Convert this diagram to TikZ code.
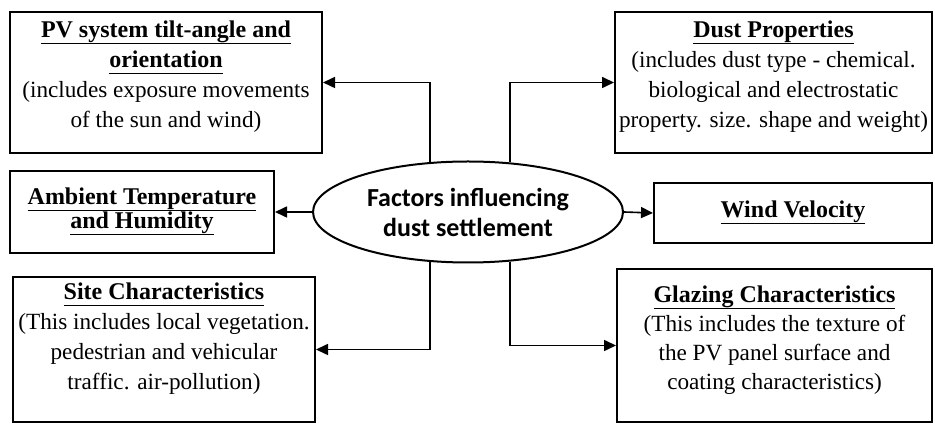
\documentclass[tikz,border=0pt]{standalone}
\usepackage{fontspec}
\setmainfont{Liberation Serif}
\newfontfamily\factfont{Carlito}
\usetikzlibrary{positioning,shapes.geometric,arrows.meta,calc}

\newcommand{\boxtitle}[1]{\textbf{\fontsize{12pt}{15pt}\selectfont\underline{\raisebox{0pt}[\height][0pt]{#1}\rule[-1.6pt]{0pt}{1pt}}}}

\begin{document}
\begin{tikzpicture}[x=0.5pt, y=-0.5pt,
    factor/.style={draw=black, line width=1pt, rectangle, inner sep=0pt, align=center,
                   font=\fontsize{11.6pt}{15pt}\selectfont},
    factortext/.style={align=center, font=\fontsize{11.6pt}{15pt}\selectfont},
    centre/.style={ellipse, draw=black, line width=1pt, fill=white, align=center, inner sep=0pt,
                   font=\factfont\bfseries\fontsize{13pt}{15pt}\selectfont},
    link/.style={draw=black, line width=0.8pt, -{Triangle[length=6pt,width=5.5pt]}}]

    \useasboundingbox (0,0) rectangle (935,426);

    % Centre
    \node[centre, minimum width=155pt, minimum height=50.5pt] (fact) at (468,212) {Factors influencing\\dust settlement};

    % Left side
    \node[factor, minimum width=156pt, minimum height=70.5pt] (pv) at (166,82.5) {}; % Tilt and orientation
    \node[factortext, below=1.5pt of pv.north] (pvtext) {\boxtitle{PV system tilt-angle and}\\\boxtitle{orientation}\\(includes exposure movements\\of the sun and wind)};
    \node[factor, minimum width=132pt, minimum height=41pt, font=\fontsize{12pt}{12pt}\selectfont] (amb) at (142,212) {\boxtitle{Ambient Temperature}\\\boxtitle{and Humidity}};
    \node[factor, minimum width=151pt, minimum height=72.5pt] (site) at (164,349.5) {}; % Site
    \node[factortext, below=0pt of site.north] (sitetext) {\boxtitle{Site Characteristics}\\(This includes local vegetation.\\pedestrian and vehicular\\traffic. air-pollution)};

    % Right side
    \node[factor, minimum width=158.5pt, minimum height=70.5pt] (dust) at (773.5,82.5) {}; % Dust
    \node[factortext, below=1.5pt of dust.north] (dusttext) {\boxtitle{Dust Properties}\\(includes dust type - chemical.\\biological and electrostatic\\property. size. shape and weight)};
    \node[factor, minimum width=139pt, minimum height=30pt] (wind) at (793,213) {\boxtitle{Wind Velocity}};
    \node[factor, minimum width=157.5pt, minimum height=76.5pt] (glaz) at (774.5,345.5) {}; % Glazing
    \node[factortext, below=5.5pt of glaz.north, font=\fontsize{11.6pt}{14.5pt}\selectfont] (glaztext) {\boxtitle{Glazing Characteristics}\\(This includes the texture of\\the PV panel surface and\\coating characteristics)};

    % Connectors
    \draw[link] ($(fact.north)+(-38,1.5)$) |- (pv.east);
    \draw[link] ($(fact.north)+(42,1.5)$) |- (dust.west);
    \draw[link] (fact.west) -- (amb.east);
    \draw[link] (fact.east) -- (wind.west);
    \draw[link] ($(fact.south)+(-38,-1.5)$) |- (site.east);
    \draw[link] ($(fact.south)+(42,-1.5)$) |- (glaz.west);
\end{tikzpicture}
\end{document}
